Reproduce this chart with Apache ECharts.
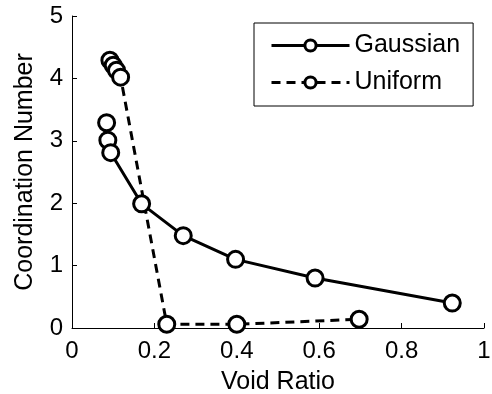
<!DOCTYPE html>
<html>
<head>
<meta charset="utf-8">
<script src="https://cdn.jsdelivr.net/npm/echarts@6/dist/echarts.min.js"></script>
<style>
  html, body { margin: 0; padding: 0; background: #fff; }
  #chart { width: 492px; height: 394px; }
</style>
</head>
<body>
<div id="chart"></div>
<script>
// data
const gaussianX = [0.084, 0.087, 0.094, 0.169, 0.27, 0.397, 0.59, 0.923];
const gaussianY = [3.29, 3.01, 2.81, 1.99, 1.48, 1.10, 0.80, 0.40];
const uniformX = [0.092, 0.100, 0.108, 0.118, 0.230, 0.400, 0.697];
const uniformY = [4.29, 4.21, 4.13, 4.02, 0.06, 0.06, 0.14];

const zip = (xs, ys) => xs.map((x, i) => [x, ys[i]]);

const chart = echarts.init(document.getElementById('chart'));
const font = 'Liberation Sans, Arial, sans-serif';

const axisCommon = {
  axisLine: { show: true, lineStyle: { color: '#000', width: 1 } },
  axisTick: { show: true, inside: true, length: 5, lineStyle: { color: '#000' } },
  axisLabel: { color: '#000', fontSize: 24, fontFamily: font },
  splitLine: { show: false },
  nameTextStyle: { color: '#000', fontSize: 25, fontFamily: font }
};

const seriesCommon = {
  type: 'line',
  symbol: 'circle',
  symbolSize: 16,
  itemStyle: { color: '#fff', borderColor: '#000', borderWidth: 3 },
  animation: false
};

chart.setOption({
  backgroundColor: '#fff',
  grid: { left: 72, top: 16, right: 8, bottom: 66, outerBoundsMode: 'none' },
  xAxis: Object.assign({}, axisCommon, {
    type: 'value', min: 0, max: 1, interval: 0.2,
    name: 'Void Ratio', nameLocation: 'middle', nameGap: 42,
    axisLabel: Object.assign({}, axisCommon.axisLabel, { margin: 11 })
  }),
  yAxis: Object.assign({}, axisCommon, {
    type: 'value', min: 0, max: 5, interval: 1,
    name: 'Coordination Number', nameLocation: 'middle', nameGap: 34,
    axisLabel: Object.assign({}, axisCommon.axisLabel, { margin: 9 })
  }),
  legend: {
    left: 254, top: 23,
    orient: 'vertical',
    backgroundColor: '#fff',
    borderColor: '#000', borderWidth: 1,
    padding: [10, 13, 11, 16],
    itemGap: 12,
    itemWidth: 78, itemHeight: 14,
    lineStyle: { width: 3 },
    itemStyle: { borderWidth: 3 },
    textStyle: { color: '#000', fontSize: 25, fontFamily: font },
    data: ['Gaussian', 'Uniform']
  },
  series: [
    Object.assign({}, seriesCommon, {
      name: 'Gaussian',
      data: zip(gaussianX, gaussianY),
      lineStyle: { color: '#000', width: 3, type: 'solid' }
    }),
    Object.assign({}, seriesCommon, {
      name: 'Uniform',
      data: zip(uniformX, uniformY),
      lineStyle: { color: '#000', width: 3, type: [9, 6] }
    })
  ]
});
</script>
</body>
</html>
